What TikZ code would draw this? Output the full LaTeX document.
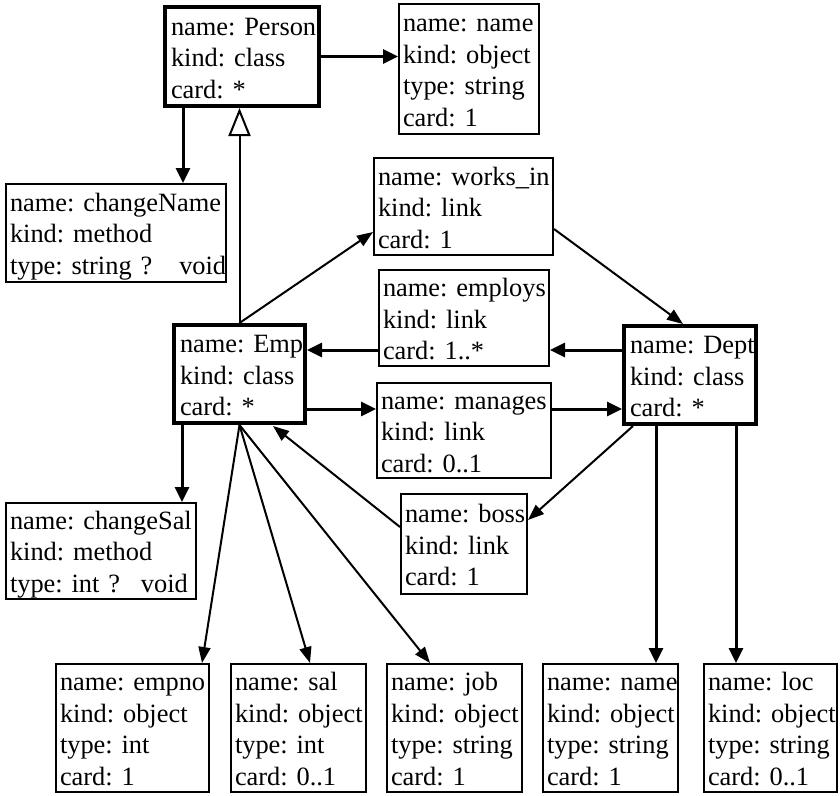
\documentclass[tikz,border=0pt]{standalone}
\usepackage{fontspec}
\setmainfont{Liberation Serif}
\usetikzlibrary{arrows.meta,calc}

% text block helpers: one field per line, struts keep every box aligned alike
\newcommand\boxfont{\fontsize{26.4pt}{31.5pt}\selectfont\frenchspacing}
\newcommand\threefields[3]{\rule{0pt}{25.5pt}\mbox{#1}\\\mbox{#2}\\\mbox{#3}\rule[-5.5pt]{0pt}{5.5pt}}
\newcommand\fourfields[4]{\rule{0pt}{25.5pt}\mbox{#1}\\\mbox{#2}\\\mbox{#3}\\\mbox{#4}\rule[-5.5pt]{0pt}{5.5pt}}

\tikzset{
  obj/.style={draw, line width=2pt, inner xsep=4pt, inner ysep=0pt, align=left, font=\boxfont, anchor=center},
  cls/.style={obj, line width=4pt, inner xsep=6pt},
  arr/.style={line width=3pt, -{Triangle[length=15pt,width=14pt]}},
  darr/.style={line width=2pt, -{Triangle[length=16pt,width=12pt]}},
  inh/.style={line width=2pt, -{Triangle[open,length=28pt,width=22pt,line width=2pt]}},
}

\begin{document}
\begin{tikzpicture}[x=1pt,y=-1pt]
\useasboundingbox (0,0) rectangle (840,795);

% classes
\node[cls, text width=142pt, minimum height=99pt] (Person) at (242,56.5)
  {\threefields{name: Person}{kind: class}{card: *}};
\node[cls, text width=119pt, minimum height=98pt] (Emp) at (239.5,374)
  {\threefields{name: Emp}{kind: class}{card: *}};
\node[cls, text width=120pt, minimum height=98pt] (Dept) at (690,375)
  {\threefields{name: Dept}{kind: class}{card: *}};

% attributes, methods and links
\node[obj, text width=132pt, minimum height=130pt] (pname) at (469,69)
  {\fourfields{name: name}{kind: object}{type: string}{card: 1}};
\node[obj, text width=212pt, minimum height=98pt] (changeName) at (116,233)
  {\threefields{name: changeName}{kind: method}{type: string ?\hspace{27pt}void}};
\node[obj, text width=171pt, minimum height=97pt] (worksin) at (463.5,206.5)
  {\threefields{name: works\_in}{kind: link}{card: 1}};
\node[obj, text width=162pt, minimum height=96pt] (employs) at (464,318)
  {\threefields{name: employs}{kind: link}{card: 1..*}};
\node[obj, text width=166pt, minimum height=95pt] (manages) at (464,430.5)
  {\threefields{name: manages}{kind: link}{card: 0..1}};
\node[obj, text width=118pt, minimum height=100pt] (boss) at (464,544)
  {\threefields{name: boss}{kind: link}{card: 1}};
\node[obj, text width=182pt, minimum height=96pt] (changeSal) at (101,551)
  {\threefields{name: changeSal}{kind: method}{type: int ?\hspace{21pt}void}};

% bottom row of objects
\node[obj, text width=145pt, minimum height=128pt] (empno) at (132.5,728)
  {\fourfields{name: empno}{kind: object}{type: int}{card: 1}};
\node[obj, text width=127pt, minimum height=128pt] (sal) at (298.5,728)
  {\fourfields{name: sal}{kind: object}{type: int}{card: 0..1}};
\node[obj, text width=127pt, minimum height=128pt] (job) at (454.5,728)
  {\fourfields{name: job}{kind: object}{type: string}{card: 1}};
\node[obj, text width=127pt, minimum height=128pt] (dname) at (610.5,728)
  {\fourfields{name: name}{kind: object}{type: string}{card: 1}};
\node[obj, text width=125pt, minimum height=128pt] (loc) at (770.5,728)
  {\fourfields{name: loc}{kind: object}{type: string}{card: 0..1}};

% helper coordinates for connector ends
\coordinate (lvA) at (0,350);
\coordinate (lvB) at (0,409);
\coordinate (pA) at ($(Person.south)+(-59,0)$);
\coordinate (eA) at ($(Emp.south west)+(10,0)$);
\coordinate (dA) at ($(Dept.south west)+(34,0)$);
\coordinate (dB) at ($(Dept.south west)+(114,0)$);

% Person
\draw[arr] (Person.east) -- (Person.east -| pname.west);
\draw[arr] (pA) -- (pA |- changeName.north);
\draw[inh] (Emp.north) -- (Emp.north |- Person.south);

% links between Emp and Dept
\draw[darr] (Emp.north) -- ($(worksin.west)+(0,25.5)$);
\draw[darr] ($(worksin.east)+(0,22.5)$) -- ($(Dept.north)+(-7,0)$);
\draw[arr] (Dept.west |- lvA) -- (employs.east |- lvA);
\draw[arr] (employs.west |- lvA) -- (Emp.east |- lvA);
\draw[arr] (Emp.east |- lvB) -- (manages.west |- lvB);
\draw[arr] (manages.east |- lvB) -- (Dept.west |- lvB);
\draw[darr] ($(Dept.south west)+(11,0)$) -- ($(boss.east)+(0,-24)$);
\draw[darr] ($(boss.west)+(0,-17)$) -- ($(Emp.south)+(33.5,1)$);

% Emp members
\draw[arr] (eA) -- (eA |- changeSal.north);
\draw[darr] (Emp.south) -- ($(empno.north)+(69.5,0)$);
\draw[darr] (Emp.south) -- ($(sal.north)+(11.5,0)$);
\draw[darr] (Emp.south) -- ($(job.north)+(-24.5,0)$);

% Dept members
\draw[arr] (dA) -- (dA |- dname.north);
\draw[arr] (dB) -- (dB |- loc.north);
\end{tikzpicture}
\end{document}
